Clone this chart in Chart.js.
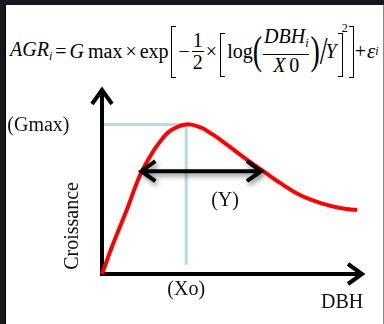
<!DOCTYPE html>
<html><head><meta charset="utf-8">
<script src="https://cdn.jsdelivr.net/npm/chart.js@4"></script>
<style>
html,body{margin:0;padding:0;width:384px;height:324px;overflow:hidden;background:#17171d;}
#frame{position:absolute;left:5px;top:5px;width:377px;height:319px;background:#fff;border-left:1px solid #000;border-right:1px solid #888;}
#c{position:absolute;left:0;top:0;}
#formula{position:absolute;left:10px;top:24px;height:54px;display:flex;align-items:center;font-family:'Liberation Serif','Times New Roman',serif;font-size:20px;color:#000;white-space:nowrap;}
#formula sub{font-size:12px;vertical-align:-4px;}
#formula sup{font-size:12px;align-self:flex-start;margin-top:-3px;margin-left:-1px;}
.op{margin:0 3px;}
.ops{margin:0 1px;}
.bl,.br{display:inline-block;width:4px;border:1.2px solid #000;}
.bl{border-right:none;margin:0 2px 0 2px;}
.br{border-left:none;margin:0 0 0 1px;}
.big{height:50px;margin-top:2px;}
.mid{height:42px;margin-top:8px;}
.frac{display:inline-flex;flex-direction:column;align-items:center;line-height:21px;margin:0 1px;}
.frac .num{border-bottom:1px solid #000;padding:0 1px;}
.par{font-size:28px;line-height:30px;display:inline-block;transform:scaleY(1.45);}
.sl{font-size:28px;line-height:30px;display:inline-block;transform:scaleY(1.4);margin:0 -2px 0 0;}
.eps{font-size:21px;}
</style>
</head><body>
<div id="frame"></div>
<div id="formula">
<span><i>AGR</i><sub><i>i</i></sub></span><span class="op">=</span><i>G</i>&thinsp;max<span class="op">×</span>exp<span class="bl big"></span><span class="ops">−</span><span class="frac"><span class="num">1</span><span>2</span></span><span class="ops">×</span><span class="bl mid"></span>log<span class="par">(</span><span class="frac"><span class="num"><i>DBH</i><sub><i>i</i></sub></span><span><i>X</i>&thinsp;0</span></span><span class="par">)</span><span class="sl">/</span><i>Y</i><span class="br mid"></span><sup>2</sup><span class="br big"></span><span class="ops">+</span><i class="eps">ε</i><sub><i>i</i></sub>
</div>
<canvas id="c" width="384" height="324"></canvas>
<script>
// Curve (DBH units, growth units)
const dbh    = [0, 0.43, 0.94, 1.42, 1.80, 2.14, 2.59, 3.2, 3.73, 4.22, 4.75, 5.25, 5.74, 6.12, 6.77, 7.53, 8.29, 9.05, 9.70];
const growth = [0, 1.64, 3.42, 5.20, 6.22, 6.95, 7.65, 8.0, 7.85, 7.45, 6.92, 6.38, 5.88, 5.51, 4.87, 4.22, 3.80, 3.53, 3.42];
const gmax = 8.0;
const xo = 3.2;
const spreadArrow = [1.42, 6.12];
const spreadLevel = 5.5;
const axisMax = [10, 10];
const labelTexts = ['(Gmax)', '(Y)', '(Xo)', 'DBH', 'Croissance'];

const points = dbh.map((x, i) => ({x: x, y: growth[i]}));

const annot = {
  id: 'annot',
  beforeDatasetsDraw(chart) {
    const {ctx, scales: {x, y}} = chart;
    const px = v => x.getPixelForValue(v), py = v => y.getPixelForValue(v);
    ctx.save();
    // guide lines
    ctx.strokeStyle = '#b3dde1';
    ctx.lineWidth = 3;
    ctx.beginPath();
    ctx.moveTo(px(0), py(gmax)); ctx.lineTo(px(xo) + 1.5, py(gmax));
    ctx.moveTo(px(xo), py(gmax)); ctx.lineTo(px(xo), py(0.5));
    ctx.stroke();
    // axes
    ctx.strokeStyle = '#000';
    ctx.lineWidth = 4;
    ctx.lineJoin = 'miter';
    ctx.beginPath();
    ctx.moveTo(px(0), py(0)); ctx.lineTo(px(0), py(axisMax[1]) + 2);
    ctx.moveTo(px(0) - 2, py(0)); ctx.lineTo(px(axisMax[0]) - 2, py(0));
    ctx.stroke();
    ctx.beginPath();
    ctx.moveTo(px(0) - 10, py(axisMax[1]) + 17); ctx.lineTo(px(0), py(axisMax[1]) + 3); ctx.lineTo(px(0) + 10, py(axisMax[1]) + 17);
    ctx.moveTo(px(axisMax[0]) - 17, py(0) - 10); ctx.lineTo(px(axisMax[0]) - 3, py(0)); ctx.lineTo(px(axisMax[0]) - 17, py(0) + 10);
    ctx.stroke();
    ctx.restore();
  },
  afterDatasetsDraw(chart) {
    const {ctx, scales: {x, y}} = chart;
    const px = v => x.getPixelForValue(v), py = v => y.getPixelForValue(v);
    ctx.save();
    // double arrow with shadow
    ctx.shadowColor = 'rgba(0,0,0,0.45)';
    ctx.shadowBlur = 5;
    ctx.shadowOffsetX = 2;
    ctx.shadowOffsetY = 3;
    ctx.strokeStyle = '#000';
    ctx.lineWidth = 4;
    const a = px(spreadArrow[0]), b = px(spreadArrow[1]), yy = py(spreadLevel);
    ctx.beginPath();
    ctx.moveTo(a + 2, yy); ctx.lineTo(b - 2, yy);
    ctx.moveTo(a + 16, yy - 10); ctx.lineTo(a + 2, yy); ctx.lineTo(a + 16, yy + 10);
    ctx.moveTo(b - 16, yy - 10); ctx.lineTo(b - 2, yy); ctx.lineTo(b - 16, yy + 10);
    ctx.stroke();
    ctx.restore();
    // labels
    ctx.save();
    ctx.fillStyle = '#111';
    ctx.font = '20px "Liberation Serif", "Times New Roman", serif';
    ctx.textBaseline = 'middle';
    ctx.textAlign = 'left';
    ctx.fillText(labelTexts[0], px(-3.6), py(gmax) + 1);
    ctx.textAlign = 'center';
    ctx.fillText(labelTexts[1], px(4.68), py(3.9));
    ctx.fillText(labelTexts[2], px(xo), py(-0.86));
    ctx.textAlign = 'right';
    ctx.fillText(labelTexts[3], px(9.93), py(-1.55));
    ctx.translate(px(-1.1), py(2.57));
    ctx.rotate(-Math.PI / 2);
    ctx.textAlign = 'center';
    ctx.fillText(labelTexts[4], 0, 0);
    ctx.restore();
  }
};

new Chart(document.getElementById('c'), {
  type: 'line',
  data: {
    datasets: [{
      data: points,
      borderColor: '#ff0000',
      borderWidth: 4,
      pointRadius: 0,
      fill: false,
      tension: 0.4,
      clip: false
    }]
  },
  options: {
    responsive: false,
    animation: false,
    layout: {padding: {left: 102, right: 19, top: 87, bottom: 50}},
    plugins: {legend: {display: false}, tooltip: {enabled: false}},
    scales: {
      x: {type: 'linear', min: 0, max: axisMax[0], display: false},
      y: {type: 'linear', min: 0, max: axisMax[1], display: false}
    }
  },
  plugins: [annot]
});
</script>
</body></html>
